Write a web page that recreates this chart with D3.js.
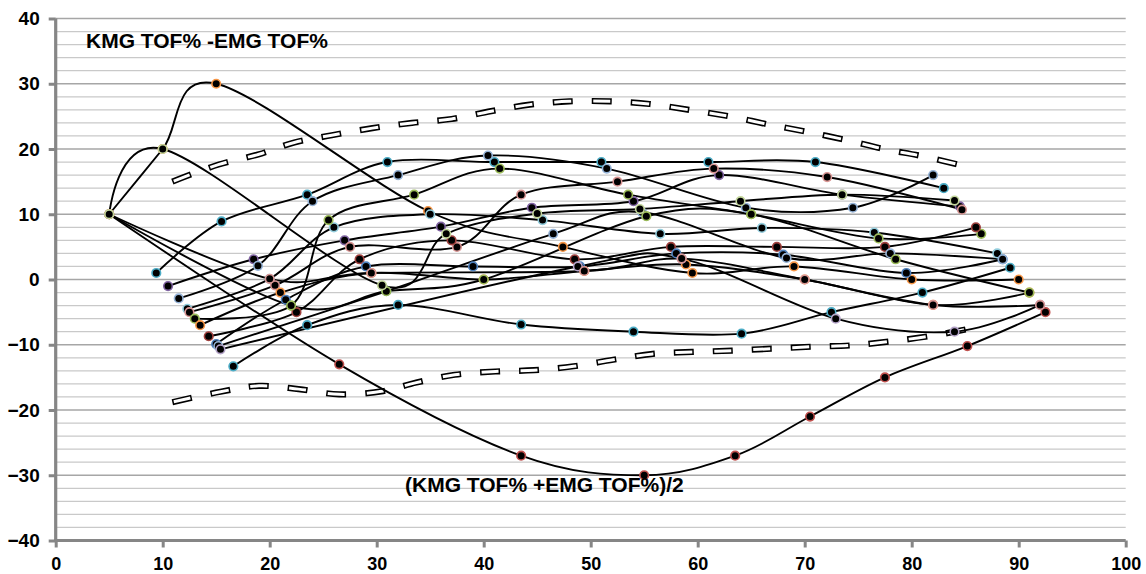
<!DOCTYPE html>
<html>
<head>
<meta charset="utf-8">
<script src="https://cdn.jsdelivr.net/npm/d3@7"></script>
<style>
  html, body { margin: 0; padding: 0; background: #fff; }
  svg { display: block; }
  text { font-family: "Liberation Sans", Arial, sans-serif; font-weight: bold; fill: #000; }
</style>
</head>
<body>
<svg id="chart" width="1146" height="574"></svg>
<script>
// ---------------- data ----------------
const xTicks = [0, 10, 20, 30, 40, 50, 60, 70, 80, 90, 100];
const yTicks = [-40, -30, -20, -10, 0, 10, 20, 30, 40];
const titleDiff = "KMG TOF% -EMG TOF%";
const titleMean = "(KMG TOF% +EMG TOF%)/2";

const s01 = [[5,10],[10,20],[15,30],[34.8,10.5],[47.4,5],[59.5,1],[69,2],[80,0],[90,0]];
const s03 = [[5,10],[26.5,-13],[43.5,-27],[55,-30],[63.5,-27],[70.5,-21],[77.5,-15],[85.2,-10.2],[92.5,-5]];
const s04 = [[9.4,1],[15.5,8.9],[23.5,13],[31,18],[41,18],[51,18],[61,18],[71,18],[83,14]];
const s05 = [[16.6,-13.3],[23.5,-7],[32,-3.9],[43.5,-6.9],[54,-8],[64.1,-8.3],[72.5,-5],[81,-2],[89.2,1.8]];
const s06 = [[10.5,-1],[18.5,3.1],[27,6],[36,8.1],[44.5,11],[54,12],[62,16],[73.5,13],[84.5,11.2]];
const s07 = [[11.5,-2.9],[18.9,2.1],[24,12],[32,16],[40.4,19],[51.5,17],[64.5,11],[74.5,11],[82,16]];
const s08 = [[12.3,-4.5],[20,0.1],[26,8],[35,10],[45.5,9.1],[56.5,7],[66,7.9],[76.5,7.2],[88,4]];
const s09 = [[12.5,-5],[20.5,-0.9],[27.5,5],[37.5,5],[43.5,13],[52.5,15],[61.5,17],[72.1,15.7],[84.7,10.7]];
const s10 = [[13,-6],[22,-4],[25.5,9.1],[33.5,13],[41.5,17],[53.5,13],[65,10],[76.9,6.3],[86.5,7]];
const s11 = [[13.5,-7],[21,-2],[29.5,1],[40,0],[49.4,1.3],[58.9,2.3],[70,0],[82,-3.9],[91,-2]];
const s12 = [[14.3,-8.7],[22.5,-5],[28.4,3.1],[37,6],[48.5,3.1],[57.5,5],[67.4,5],[77.5,5],[86,8]];
const s13 = [[15,-9.9],[21.5,-3.1],[29,2],[39,2],[49,2],[58,4],[68,3.8],[79.5,1],[88.5,3.1]];
const s14 = [[15.2,-10.2],[30.9,-1.8],[46.5,7],[54.8,10.3],[68.3,3.3],[78,4],[88.5,3.1]];
const s15 = [[15.4,-10.7],[48.8,2],[58.5,3.2],[72.9,-6],[84,-8],[92,-3.9]];
const s16 = [[5,10],[22,-4],[30.9,-1.8],[40,0],[55.2,9.7],[65,10],[78.5,3.1],[91,-2]];
const s17 = [[5,10],[20,0.1],[29.5,1],[49.4,1.3],[58.5,3.2],[70,0],[82,-3.9],[92,-3.9]];
const s02 = [[5,10],[10,20],[30.5,-0.9],[36.5,7],[45,10.1],[54.6,10.8],[64,12],[73.5,13],[84,12.1]];

const seriesList = [s01, s03, s04, s05, s06, s07, s08, s09, s10, s11, s12, s13, s14, s15, s16, s17, s02];
const seriesColors = ["#F79646", "#C0504D", "#4BACC6", "#4BACC6", "#8064A2", "#95B3D7", "#93CDDD",
  "#D99694", "#9BBB59", "#F79646", "#A0413E", "#4F81BD", "#95B3D7", "#B3A2C7", "#9BBB59", "#D99694", "#C3D69B"];

const upperLimit = [[10.9,15.0],[15.2,17.6],[19,19.2],[22.3,21],[25.8,22.1],[29.6,23.2],[33.3,24.0],[37,24.6],
  [40.7,25.8],[44.3,26.8],[48,27.3],[51.8,27.3],[55.5,26.9],[59.2,26.0],[63,25],[66.5,23.8],[70,22.7],
  [73.8,21.4],[77.4,20],[81,18.9],[85.4,17.2]];
const lowerLimit = [[10.9,-18.8],[15.4,-17.2],[19,-16.3],[22.7,-16.8],[26.5,-17.6],[30.6,-17.1],[33.7,-15.8],
  [37.3,-14.6],[41.1,-14.1],[44.7,-13.9],[48.4,-13.3],[52.1,-12.3],[55.8,-11.4],[59.5,-11.1],[63.2,-10.9],
  [66.9,-10.6],[70.7,-10.3],[74.3,-10.1],[77.9,-9.5],[82,-8.6],[85.8,-7.4]];

// ---------------- drawing ----------------
const svg = d3.select("#chart");
const x = d3.scaleLinear().domain([0, 100]).range([55.7, 1125.7]);
const y = d3.scaleLinear().domain([-40, 40]).range([540.5, 18.5]);

// gridlines
const gridVals = d3.range(-38, 41, 2);
svg.append("g").selectAll("line").data(gridVals).join("line")
  .attr("x1", x(0)).attr("x2", x(100))
  .attr("y1", d => y(d)).attr("y2", d => y(d))
  .attr("stroke", d => d % 10 === 0 ? "#a6a6a6" : "#c9c9c9")
  .attr("stroke-width", d => d % 10 === 0 ? 1.6 : 1.2);

// axes
const yAxis = d3.axisLeft(y).tickValues(yTicks).tickSize(7).tickPadding(9).tickFormat(d3.format("d"));
const xAxis = d3.axisBottom(x).tickValues(xTicks).tickSize(7).tickPadding(9).tickFormat(d3.format("d"));

const gy = svg.append("g").attr("transform", `translate(${x(0)},0)`).call(yAxis);
const gx = svg.append("g").attr("transform", `translate(0,${y(-40)})`).call(xAxis);
[gy, gx].forEach(g => {
  g.select(".domain").attr("stroke", "#868686").attr("stroke-width", 3.2);
  g.selectAll(".tick line").attr("stroke", "#868686").attr("stroke-width", 3);
  g.selectAll(".tick text").style("font-family", "'Liberation Sans', Arial, sans-serif")
    .style("font-weight", "bold").style("font-size", "19px").attr("fill", "#000");
});
gx.selectAll(".tick text").style("font-size", "18px").attr("dy", null).attr("y", 0)
  .attr("transform", "translate(0,29)");
gy.select(".domain").attr("d", `M0,${y(40)}V${y(-40) + 1.6}`);
gx.select(".domain").attr("d", `M${x(0) - 1.6},0H${x(100)}`);

// limit curves (double-outlined dashes)
const limitLine = d3.line().x(d => x(d[0])).y(d => y(d[1])).curve(d3.curveCatmullRom.alpha(0.5));
[upperLimit, lowerLimit].forEach(arr => {
  svg.append("path").attr("d", limitLine(arr)).attr("fill", "none")
    .attr("stroke", "#000").attr("stroke-width", 6.2).attr("stroke-dasharray", "20 19");
  svg.append("path").attr("d", limitLine(arr)).attr("fill", "none")
    .attr("stroke", "#fff").attr("stroke-width", 3).attr("stroke-dasharray", "17 22")
    .attr("stroke-dashoffset", -1.5);
});

// series lines
const serLine = d3.line().x(d => x(d[0])).y(d => y(d[1])).curve(d3.curveCardinal.tension(0));
const gLines = svg.append("g");
seriesList.forEach(s => {
  gLines.append("path").attr("d", serLine(s)).attr("fill", "none")
    .attr("stroke", "#000").attr("stroke-width", 1.9);
});

// markers
const gMarks = svg.append("g");
seriesList.forEach((s, i) => {
  gMarks.selectAll(null).data(s).join("circle")
    .attr("cx", d => x(d[0])).attr("cy", d => y(d[1])).attr("r", 4.3)
    .attr("fill", "#000").attr("stroke", seriesColors[i]).attr("stroke-width", 1.6);
});

// titles
svg.append("text").attr("x", 86).attr("y", 48).style("font-size", "21px").text(titleDiff);
svg.append("text").attr("x", 405).attr("y", 492).style("font-size", "21px").text(titleMean);
</script>
</body>
</html>
